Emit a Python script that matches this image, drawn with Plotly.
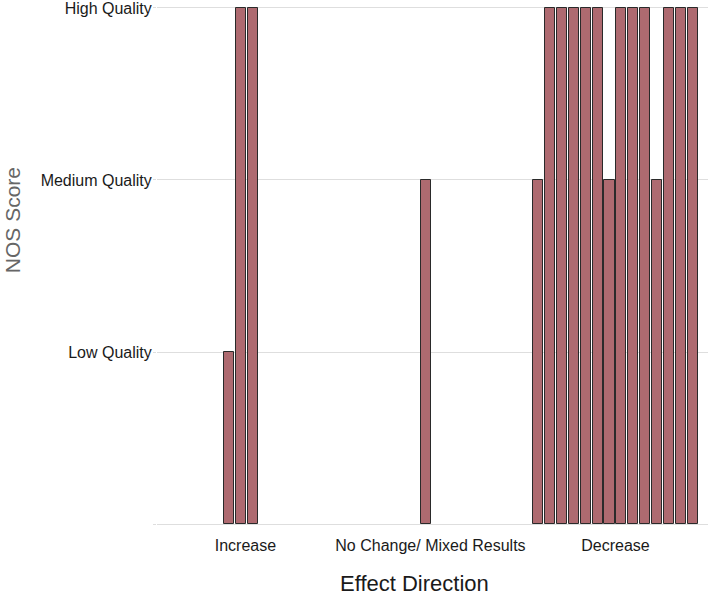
import plotly.graph_objects as go

# ---- data ----
directions = ["Increase", "No Change/ Mixed Results", "Decrease"]
quality_labels = ["Low Quality", "Medium Quality", "High Quality"]
increase_scores = ["Low Quality", "High Quality", "High Quality"]
nochange_scores = ["Medium Quality"]
decrease_scores = ["Medium Quality", "High Quality", "High Quality", "High Quality",
                   "High Quality", "High Quality", "Medium Quality", "High Quality",
                   "High Quality", "High Quality", "Medium Quality", "High Quality",
                   "High Quality", "High Quality"]
groups = [increase_scores, nochange_scores, decrease_scores]

# ---- dodge layout (harvest-plot style) ----
max_n = max(len(g) for g in groups)
step = 0.9 / max_n
bar_w = step * 0.85
xs, ys = [], []
for ci, g in enumerate(groups):
    n = len(g)
    center = ci + 1
    shift = 0 if n == max_n else -0.4 * step
    for i, q in enumerate(g):
        xs.append(center + (i - (n - 1) / 2) * step + shift)
        ys.append(quality_labels.index(q) + 1)

FONT = "Liberation Sans, Arial, sans-serif"
GRID = "#DEDEDE"

fig = go.Figure(go.Bar(
    x=xs, y=ys, width=bar_w,
    marker=dict(color="#AE6A70", line=dict(color="#2a2a2a", width=1)),
    hoverinfo="skip",
))

fig.update_layout(
    width=708, height=596,
    margin=dict(l=157, r=0, t=2, b=72),
    paper_bgcolor="white", plot_bgcolor="white",
    showlegend=False,
    font=dict(family=FONT, size=16, color="#000000"),
    bargap=0,
)
fig.update_xaxes(
    range=[0.522, 3.5],
    tickvals=[1, 2, 3], ticktext=directions,
    ticks="outside", ticklen=7, tickcolor="rgba(0,0,0,0)",
    showgrid=False, zeroline=False, showline=False,
    tickfont=dict(family=FONT, size=16, color="#1a1a1a"),
)
fig.update_yaxes(
    range=[0, 3.0232],
    tickvals=[0, 1, 2, 3], ticktext=[""] + quality_labels,
    ticks="outside", ticklen=3, tickcolor=GRID,
    ticklabelstandoff=-2,
    ticklabeloverflow="allow",
    showgrid=True, gridcolor=GRID, gridwidth=1,
    zeroline=True, zerolinecolor=GRID, zerolinewidth=1,
    showline=False,
    tickfont=dict(family=FONT, size=16, color="#1a1a1a"),
)
fig.add_annotation(
    text="NOS Score", xref="paper", yref="paper",
    x=-(157 - 12) / 551, y=(524 - 219) / 522, textangle=-90,
    showarrow=False, xanchor="center", yanchor="middle", borderpad=0,
    font=dict(family=FONT, size=21, color="#666666"),
)
fig.add_annotation(
    text="Effect Direction", xref="paper", yref="paper",
    x=(414 - 157) / 551, y=-(584 - 524) / 522,
    showarrow=False, xanchor="center", yanchor="middle",
    font=dict(family=FONT, size=22, color="#1a1a1a"),
)
fig.write_html(
    "out.html",
    config={"displayModeBar": False},
    post_script="document.body.style.margin='0';document.body.style.overflow='hidden';",
)
